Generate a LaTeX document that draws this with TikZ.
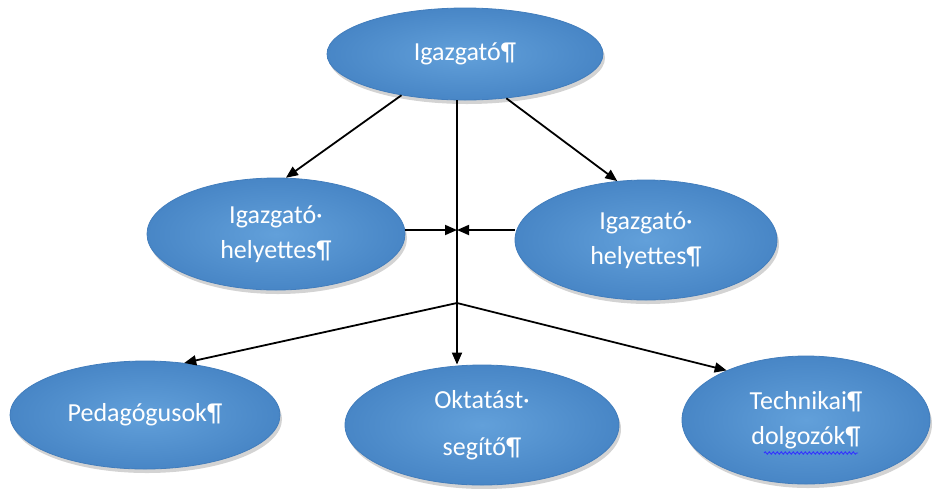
\documentclass[tikz,border=0pt]{standalone}
\usepackage{fontspec}
\setmainfont{Carlito}
\usetikzlibrary{shapes.geometric,shadows,arrows.meta,decorations.pathmorphing}
\definecolor{ovalin}{RGB}{98,160,218}
\definecolor{ovalout}{RGB}{72,134,198}
\definecolor{ovaledge}{RGB}{66,125,188}
\tikzset{
  oval/.style={ellipse, inner sep=0pt, draw=ovaledge, line width=0.8pt,
    inner color=ovalin, outer color=ovalout,
    drop shadow={opacity=0.35, shadow xshift=2pt, shadow yshift=-4pt},
    text=white, align=center, font=\fontsize{26}{35}\selectfont},
  conn/.style={line width=1.8pt, black},
  arr/.style={conn, -{Triangle[length=12pt,width=10pt]}}
}
\begin{document}
\begin{tikzpicture}[x=1pt,y=-1pt]
\useasboundingbox (0,0) rectangle (936,488);
\node[oval, minimum width=276, minimum height=92] (top) at (465,54) {Igazgató¶};
\node[oval, minimum width=258, minimum height=112] (lm) at (276,234) {Igazgató·\\helyettes¶};
\node[oval, minimum width=262, minimum height=120] (rm) at (646,240) {Igazgató·\\helyettes¶};
\node[oval, minimum width=270, minimum height=108] (bl) at (145,415) {Pedagógusok¶};
\node[oval, minimum width=274, minimum height=120] (bm) at (482,425) {Oktatást·\\[12pt]segítő¶};
\node[oval, minimum width=248, minimum height=128] (br) at (806,420) {Technikai¶\\dolgozók¶};
\coordinate (j) at (457,303);
\coordinate (h) at (457,230);
\coordinate (w1) at (764,453);
\coordinate (w2) at (858,453);
\draw[blue!80!white, line width=0.9pt, decorate, decoration={snake, amplitude=1.2pt, segment length=4pt}] (w1) -- (w2);
\draw[arr] (top.-147) -- (lm.80);
\draw[arr] (top.-47) -- (rm.116);
\draw[conn] (j |- top.south) -- (j);
\draw[arr] (j) -- (j |- bm.north);
\draw[arr] (lm.east |- h) -- (h);
\draw[arr] (rm.west |- h) -- (h);
\draw[arr] (j) -- (bl.53);
\draw[arr] (j) -- (br.148);
\end{tikzpicture}
\end{document}
